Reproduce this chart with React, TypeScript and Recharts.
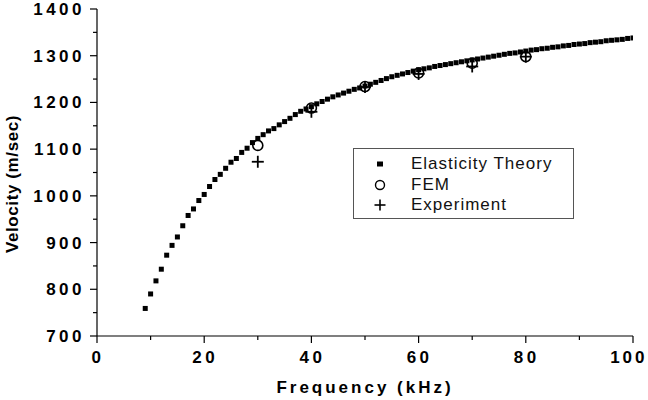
import { ScatterChart, Scatter, XAxis, YAxis } from "recharts";

const FONT = '"Liberation Sans", Arial, sans-serif';

// Elasticity theory curve (1 kHz steps)
const theoryFreq = [
  9, 10, 11, 12, 13, 14, 15, 16, 17, 18, 19, 20, 21, 22, 23, 24, 25, 26, 27, 28,
  29, 30, 31, 32, 33, 34, 35, 36, 37, 38, 39, 40, 41, 42, 43, 44, 45, 46, 47, 48,
  49, 50, 51, 52, 53, 54, 55, 56, 57, 58, 59, 60, 61, 62, 63, 64, 65, 66, 67, 68,
  69, 70, 71, 72, 73, 74, 75, 76, 77, 78, 79, 80, 81, 82, 83, 84, 85, 86, 87, 88,
  89, 90, 91, 92, 93, 94, 95, 96, 97, 98, 99, 100,
];
const theoryVel = [
  759, 790, 818, 843, 873, 894, 912, 936, 958, 972, 990, 1003, 1020, 1035, 1046,
  1059, 1072, 1080, 1093, 1102, 1114, 1123, 1131, 1139, 1144, 1152, 1159, 1166,
  1174, 1181, 1186, 1191, 1197, 1202, 1207, 1212, 1216, 1220, 1224, 1228, 1231,
  1235, 1239, 1243, 1247, 1251, 1255, 1258, 1261, 1264, 1267, 1270, 1272, 1274,
  1277, 1279, 1281, 1283, 1285, 1287, 1289, 1291, 1293, 1295, 1297, 1299, 1301,
  1303, 1305, 1306, 1308, 1310, 1312, 1313, 1315, 1316, 1318, 1319, 1321, 1322,
  1324, 1325, 1326, 1328, 1329, 1330, 1332, 1333, 1334, 1335, 1337, 1338,
];

// FEM and experiment points
const testFreq = [30, 40, 50, 60, 70, 80];
const femVel = [1108, 1188, 1234, 1263, 1284, 1298];
const expVel = [1073, 1180, 1233, 1261, 1277, 1298];

const xTicks = [0, 10, 20, 30, 40, 50, 60, 70, 80, 90, 100];
const yTicks = [700, 750, 800, 850, 900, 950, 1000, 1050, 1100, 1150, 1200, 1250, 1300, 1350, 1400];

const theoryData = theoryFreq.map((f, i) => ({ f, v: theoryVel[i] }));
const femData = testFreq.map((f, i) => ({ f, v: femVel[i] }));
const expData = testFreq.map((f, i) => ({ f, v: expVel[i] }));

const XTick = (props: any) => {
  const { x, y, payload } = props;
  const major = payload.value % 20 === 0;
  // last label sits at the right edge, keep it inside the picture
  const last = payload.value === 100;
  return (
    <g>
      <line x1={x} x2={x} y1={y} y2={y + (major ? 7 : 4)} stroke="#000" strokeWidth={1.2} />
      {major && (
        <text
          x={last ? 647.5 : x + 1}
          y={y + 27}
          textAnchor={last ? "end" : "middle"}
          fontFamily={FONT}
          fontSize={17}
          fontWeight="bold"
          letterSpacing={last ? 3 : 3.5}
          fill="#000"
        >
          {payload.value}
        </text>
      )}
    </g>
  );
};

const YTick = (props: any) => {
  const { x, y, payload } = props;
  const major = payload.value % 100 === 0;
  return (
    <g>
      <line x1={x} x2={x - (major ? 7 : 4)} y1={y} y2={y} stroke="#000" strokeWidth={1.2} />
      {major && (
        <text
          x={x - 12}
          y={y + 6}
          textAnchor="end"
          fontFamily={FONT}
          fontSize={17}
          fontWeight="bold"
          letterSpacing={3.5}
          fill="#000"
        >
          {payload.value}
        </text>
      )}
    </g>
  );
};

const Square = (p: any) => (
  <rect x={p.cx - 2.5} y={p.cy - 2.5} width={5} height={5} fill="#000" />
);
const Ring = (p: any) => (
  <circle cx={p.cx} cy={p.cy} r={5} fill="none" stroke="#000" strokeWidth={1.6} />
);
const Plus = (p: any) => (
  <g stroke="#000" strokeWidth={1.8}>
    <line x1={p.cx - 6} x2={p.cx + 6} y1={p.cy} y2={p.cy} />
    <line x1={p.cx} x2={p.cx} y1={p.cy - 6} y2={p.cy + 6} />
  </g>
);

const legendItems = [
  { name: "Elasticity Theory", mark: <rect x={3} y={3.5} width={6} height={5} fill="#000" /> },
  { name: "FEM", mark: <circle cx={6} cy={6} r={4.5} fill="none" stroke="#000" strokeWidth={1.4} /> },
  {
    name: "Experiment",
    mark: (
      <g stroke="#000" strokeWidth={1.6}>
        <line x1={0.5} x2={11.5} y1={6} y2={6} />
        <line x1={6} x2={6} y1={0.5} y2={11.5} />
      </g>
    ),
  },
];

const App = () => {
  return (
    <div style={{ position: "absolute", left: 0, top: 0, width: 648, height: 400, background: "#fff" }}>
      <ScatterChart width={648} height={400} margin={{ top: 9, right: 15, bottom: 0, left: 0 }}>
        <XAxis
          type="number"
          dataKey="f"
          domain={[0, 100]}
          ticks={xTicks}
          interval={0}
          allowDataOverflow
          height={64}
          tickSize={0}
          tickMargin={0}
          tickLine={false}
          tick={<XTick />}
          axisLine={{ stroke: "#000", strokeWidth: 1.2 }}
          label={() => (
            <text
              x={365}
              y={393}
              textAnchor="middle"
              fontFamily={FONT}
              fontSize={17}
              fontWeight="bold"
              letterSpacing={3}
              fill="#000"
            >
              Frequency (kHz)
            </text>
          )}
        />
        <YAxis
          type="number"
          dataKey="v"
          domain={[700, 1400]}
          ticks={yTicks}
          interval={0}
          allowDataOverflow
          width={97}
          tickSize={0}
          tickMargin={0}
          tickLine={false}
          tick={<YTick />}
          axisLine={{ stroke: "#000", strokeWidth: 1.2 }}
          label={() => (
            <text
              x={18}
              y={184}
              transform="rotate(-90, 18, 184)"
              textAnchor="middle"
              fontFamily={FONT}
              fontSize={17}
              fontWeight="bold"
              letterSpacing={0.6}
              fill="#000"
            >
              Velocity (m/sec)
            </text>
          )}
        />
        <XAxis
          xAxisId="top"
          orientation="top"
          type="number"
          domain={[0, 100]}
          height={0}
          tick={false}
          tickLine={false}
          axisLine={{ stroke: "#000", strokeWidth: 1.2 }}
        />
        <YAxis
          yAxisId="right"
          orientation="right"
          type="number"
          domain={[700, 1400]}
          width={0}
          tick={false}
          tickLine={false}
          axisLine={{ stroke: "#000", strokeWidth: 1.2 }}
        />
        <Scatter name="Elasticity Theory" data={theoryData} shape={Square} isAnimationActive={false} />
        <Scatter name="FEM" data={femData} shape={Ring} isAnimationActive={false} />
        <Scatter name="Experiment" data={expData} shape={Plus} isAnimationActive={false} />
      </ScatterChart>
      <div
        style={{
          position: "absolute",
          left: 353,
          top: 148,
          width: 221,
          height: 71,
          boxSizing: "border-box",
          border: "1px solid #555",
          background: "#fff",
          fontFamily: FONT,
          fontSize: 17,
          letterSpacing: 1,
          color: "#111",
        }}
      >
        {legendItems.map((item, i) => (
          <div key={item.name} style={{ position: "absolute", left: 0, top: 5 + i * 20.5, height: 20, width: 219 }}>
            <svg width={12} height={12} style={{ position: "absolute", left: 20, top: 4 }}>
              {item.mark}
            </svg>
            <span style={{ position: "absolute", left: 57, top: 0, lineHeight: "20px", whiteSpace: "nowrap" }}>
              {item.name}
            </span>
          </div>
        ))}
      </div>
    </div>
  );
};

export default App;
